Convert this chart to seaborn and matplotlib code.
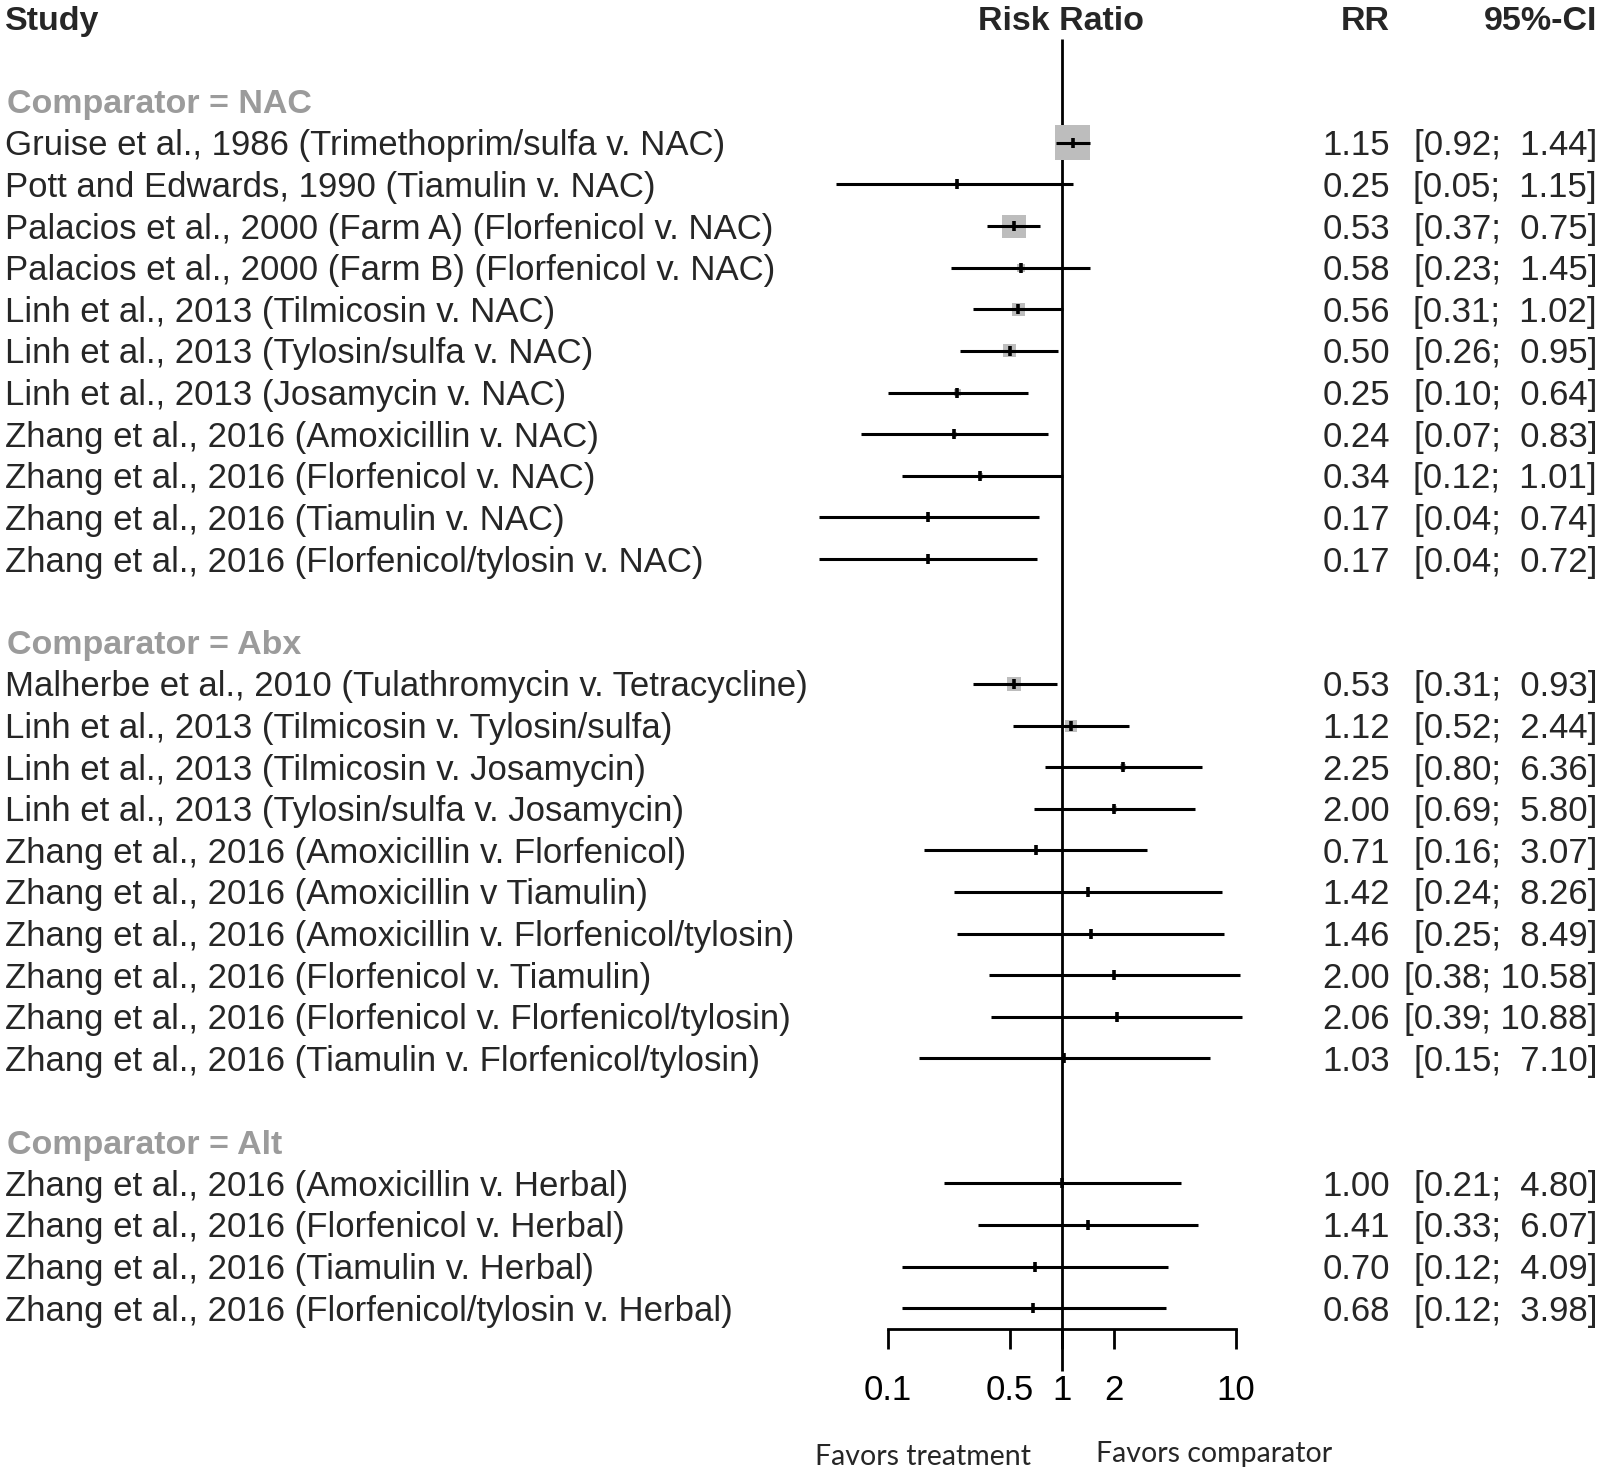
import numpy as np
import pandas as pd
import matplotlib
matplotlib.use("Agg")
import matplotlib.pyplot as plt
import matplotlib.transforms as mtrans
import seaborn as sns

# ---------------- data ----------------
groups = ["Comparator = NAC", "Comparator = Abx", "Comparator = Alt"]

studies_nac = [
    "Gruise et al., 1986 (Trimethoprim/sulfa v. NAC)",
    "Pott and Edwards, 1990 (Tiamulin v. NAC)",
    "Palacios et al., 2000 (Farm A) (Florfenicol v. NAC)",
    "Palacios et al., 2000 (Farm B) (Florfenicol v. NAC)",
    "Linh et al., 2013 (Tilmicosin v. NAC)",
    "Linh et al., 2013 (Tylosin/sulfa v. NAC)",
    "Linh et al., 2013 (Josamycin v. NAC)",
    "Zhang et al., 2016 (Amoxicillin v. NAC)",
    "Zhang et al., 2016 (Florfenicol v. NAC)",
    "Zhang et al., 2016 (Tiamulin v. NAC)",
    "Zhang et al., 2016 (Florfenicol/tylosin v. NAC)",
]
rr_nac = [1.15, 0.25, 0.53, 0.58, 0.56, 0.50, 0.25, 0.24, 0.34, 0.17, 0.17]
lo_nac = [0.92, 0.05, 0.37, 0.23, 0.31, 0.26, 0.10, 0.07, 0.12, 0.04, 0.04]
hi_nac = [1.44, 1.15, 0.75, 1.45, 1.02, 0.95, 0.64, 0.83, 1.01, 0.74, 0.72]
w_nac = [38.0, 0.5, 16.5, 2.0, 5.2, 5.2, 1.5, 0.8, 1.0, 0.5, 0.5]

studies_abx = [
    "Malherbe et al., 2010 (Tulathromycin v. Tetracycline)",
    "Linh et al., 2013 (Tilmicosin v. Tylosin/sulfa)",
    "Linh et al., 2013 (Tilmicosin v. Josamycin)",
    "Linh et al., 2013 (Tylosin/sulfa v. Josamycin)",
    "Zhang et al., 2016 (Amoxicillin v. Florfenicol)",
    "Zhang et al., 2016 (Amoxicillin v Tiamulin)",
    "Zhang et al., 2016 (Amoxicillin v. Florfenicol/tylosin)",
    "Zhang et al., 2016 (Florfenicol v. Tiamulin)",
    "Zhang et al., 2016 (Florfenicol v. Florfenicol/tylosin)",
    "Zhang et al., 2016 (Tiamulin v. Florfenicol/tylosin)",
]
rr_abx = [0.53, 1.12, 2.25, 2.00, 0.71, 1.42, 1.46, 2.00, 2.06, 1.03]
lo_abx = [0.31, 0.52, 0.80, 0.69, 0.16, 0.24, 0.25, 0.38, 0.39, 0.15]
hi_abx = [0.93, 2.44, 6.36, 5.80, 3.07, 8.26, 8.49, 10.58, 10.88, 7.10]
w_abx = [6.8, 4.5, 1.0, 1.0, 0.4, 0.3, 0.3, 0.3, 0.3, 0.3]

studies_alt = [
    "Zhang et al., 2016 (Amoxicillin v. Herbal)",
    "Zhang et al., 2016 (Florfenicol v. Herbal)",
    "Zhang et al., 2016 (Tiamulin v. Herbal)",
    "Zhang et al., 2016 (Florfenicol/tylosin v. Herbal)",
]
rr_alt = [1.00, 1.41, 0.70, 0.68]
lo_alt = [0.21, 0.33, 0.12, 0.12]
hi_alt = [4.80, 6.07, 4.09, 3.98]
w_alt = [0.3, 0.3, 0.3, 0.3]

x_ticks = [0.1, 0.5, 1, 2, 10]
x_ticklabels = ["0.1", "0.5", "1", "2", "10"]
header_study = "Study"
header_effect = "Risk Ratio"
header_rr = "RR"
header_ci = "95%-CI"
label_left = "Favors treatment"
label_right = "Favors comparator"

# ---------------- build table ----------------
rows = []
group_rows = []
r = 2
for g, names, rr, lo, hi, w in [
    (groups[0], studies_nac, rr_nac, lo_nac, hi_nac, w_nac),
    (groups[1], studies_abx, rr_abx, lo_abx, hi_abx, w_abx),
    (groups[2], studies_alt, rr_alt, lo_alt, hi_alt, w_alt),
]:
    group_rows.append((g, r))
    r += 1
    for n, a, b, c, d in zip(names, rr, lo, hi, w):
        rows.append(dict(study=n, rr=a, lo=b, hi=c, weight=d, row=r, group=g))
        r += 1
    r += 1
df = pd.DataFrame(rows)
last_row = df["row"].max()

# ---------------- figure ----------------
W, H = 1600, 1472
sns.set_theme(style="white")
plt.rcParams["font.family"] = ["Liberation Sans", "DejaVu Sans"]

fig = plt.figure(figsize=(W / 100, H / 100), dpi=100)
top_px, axis_px = 18, 1329
x0_px, x1_px = 888, 1236
ax = fig.add_axes([x0_px / W, 1 - axis_px / H, (x1_px - x0_px) / W, (axis_px - top_px) / H])
ax.set_xscale("log")
ax.set_xlim(0.1, 10)
ax.set_ylim(last_row + 0.5, 0)
ax.patch.set_alpha(0)

for s in ["top", "right", "left"]:
    ax.spines[s].set_visible(False)
ax.spines["bottom"].set_linewidth(2)
ax.spines["bottom"].set_color("black")
ax.set_xticks(x_ticks)
ax.set_xticklabels(x_ticklabels)
ax.minorticks_off()
ax.tick_params(axis="x", direction="out", length=14.5, width=2, color="black",
               labelsize=25, pad=18, labelcolor="black", bottom=True)
ax.set_yticks([])

# reference line at RR = 1
ax.vlines(1, 0.5, last_row + 1.5, color="black", lw=2, clip_on=False, zorder=1)

# confidence intervals
ax.hlines(df["row"], df["lo"], df["hi"], color="black", lw=2.2, clip_on=False, zorder=3)

# weight squares (area proportional to weight)
wmax = df["weight"].max()
side_max_pt = 35 * 0.72
sns.scatterplot(data=df, x="rr", y="row", size="weight", sizes=(0, side_max_pt ** 2),
                size_norm=(0, wmax), marker="s", color="#bdbdbd", edgecolor="none",
                legend=False, ax=ax, clip_on=False, zorder=2)
ax.plot(df["rr"], df["row"], linestyle="none", marker="|", markersize=7.5,
        markeredgewidth=2.6, color="black", clip_on=False, zorder=4)
ax.set_xlabel("")
ax.set_ylabel("")

# ---------------- text columns ----------------
tr = mtrans.blended_transform_factory(fig.transFigure, ax.transData)
body = 25
head = 24.5
off_body = 0.30
off_head = 0.29

fig.text(5 / W, 0 + off_head, header_study, transform=tr, fontsize=head, fontweight="bold",
         ha="left", va="baseline")
fig.text(1061 / W, 0 + off_head, header_effect, transform=tr, fontsize=head, fontweight="bold",
         ha="center", va="baseline")
fig.text(1390 / W, 0 + off_head, header_rr, transform=tr, fontsize=head, fontweight="bold",
         ha="right", va="baseline")
fig.text(1597 / W, 0 + off_head, header_ci, transform=tr, fontsize=head, fontweight="bold",
         ha="right", va="baseline")

for g, gr in group_rows:
    fig.text(7 / W, gr + off_head, g, transform=tr, fontsize=head, fontweight="bold",
             color="#9b9b9b", ha="left", va="baseline")

for _, row in df.iterrows():
    y = row["row"] + off_body
    fig.text(5 / W, y, row["study"], transform=tr, fontsize=body, ha="left", va="baseline")
    fig.text(1390 / W, y, f"{row['rr']:.2f}", transform=tr, fontsize=body, ha="right", va="baseline")
    hi_s = f"{row['hi']:.2f}"
    pad = "  " if len(hi_s) < 5 else " "
    fig.text(1597 / W, y, f"[{row['lo']:.2f};{pad}{hi_s}]", transform=tr, fontsize=body,
             ha="right", va="baseline")

fig.text(923 / W, 1 - 1457 / H, label_left, fontsize=20.5, family=["Lato", "DejaVu Sans"],
         ha="center", va="center")
fig.text(1214 / W, 1 - 1454 / H, label_right, fontsize=20.5, family=["Lato", "DejaVu Sans"],
         ha="center", va="center")

fig.savefig("out.png", dpi=100, facecolor="white")
